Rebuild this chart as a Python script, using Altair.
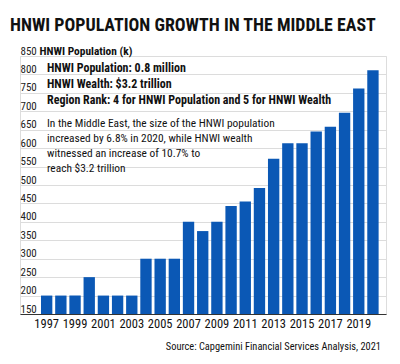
import altair as alt
import pandas as pd

years = [str(y) for y in range(1997, 2021)]
population_k = [200, 200, 200, 250, 200, 200, 200, 300, 300, 300, 400, 375,
                400, 443, 455, 492, 571, 613, 613, 645, 658, 696, 762, 811]
x_tick_labels = ["1997", "1999", "2001", "2003", "2005", "2007", "2009",
                 "2011", "2013", "2015", "2017", "2019"]
y_ticks = list(range(150, 851, 50))

title_text = "HNWI POPULATION GROWTH IN THE MIDDLE EAST"
axis_title = "HNWI Population (k)"
bold_lines = ["HNWI Population: 0.8 million", "HNWI Wealth: $3.2 trillion",
              "Region Rank: 4 for HNWI Population and 5 for HNWI Wealth"]
body_lines = ["In the Middle East, the size of the HNWI population",
              "increased by 6.8% in 2020, while HNWI wealth",
              "witnessed an increase of 10.7% to",
              "reach $3.2 trillion"]
source_text = "Source: Capgemini Financial Services Analysis, 2021"

FONT = "Roboto Condensed, DejaVu Sans Condensed, sans-serif"
BLUE = "#0b58b5"
INK = "#111111"

df = pd.DataFrame({"year": years, "pop": population_k})

bars = alt.Chart(df).mark_bar(color=BLUE).encode(
    x=alt.X("year:O", sort=years,
            scale=alt.Scale(paddingInner=0.2, paddingOuter=1, align=0.74),
            axis=alt.Axis(values=x_tick_labels, title=None, labelAngle=0,
                          ticks=False, domainColor="#333333", domainWidth=1.2,
                          labelFont=FONT, labelFontSize=12.5, labelColor=INK,
                          labelPadding=3)),
    y=alt.Y("pop:Q",
            scale=alt.Scale(domain=[150, 850], zero=False, nice=False),
            axis=alt.Axis(values=y_ticks, title=axis_title, titleAngle=0,
                          titleAlign="left", titleBaseline="alphabetic",
                          titleX=19, titleY=-2, titleFont=FONT, titleFontSize=11.4,
                          titleFontWeight="bold", titleColor=INK,
                          domain=False, ticks=False, tickSize=0,
                          labelAlign="left", labelBaseline="alphabetic",
                          labelPadding=0, labelOffset=-2, labelFont=FONT,
                          labelFontSize=11, labelColor="#222222",
                          gridColor="#dcdcdc", gridWidth=1)),
    y2=alt.datum(150),
)

def text_layer(lines, **kw):
    d = pd.DataFrame({"t": ["\n".join(lines)]})
    return alt.Chart(d).mark_text(font=FONT, color=INK, lineBreak="\n",
                                  **kw).encode(text="t:N")

title = text_layer([title_text], fontSize=17.9, fontWeight="bold",
                   align="left", baseline="alphabetic").encode(
    x=alt.value(-10), y=alt.value(-25))
bold_block = text_layer(bold_lines, fontSize=12, fontWeight="bold",
                        align="left", baseline="alphabetic", lineHeight=16).encode(
    x=alt.value(27), y=alt.value(16))
body_block = text_layer(body_lines, fontSize=11.4, align="left",
                        baseline="alphabetic", lineHeight=15).encode(
    x=alt.value(27), y=alt.value(71))
source = text_layer([source_text], fontSize=10.4, align="right",
                    baseline="alphabetic").encode(x=alt.value(361), y=alt.value(294))

chart = alt.layer(bars, title, bold_block, body_block, source).properties(
    width=366, height=258,
    autosize=alt.AutoSizeParams(type="none"),
    padding={"left": 12, "top": 48, "right": 6, "bottom": 42},
).configure_view(stroke=None).configure(background="white")

chart.save("out.html", embed_options={"renderer": "svg", "actions": False})
